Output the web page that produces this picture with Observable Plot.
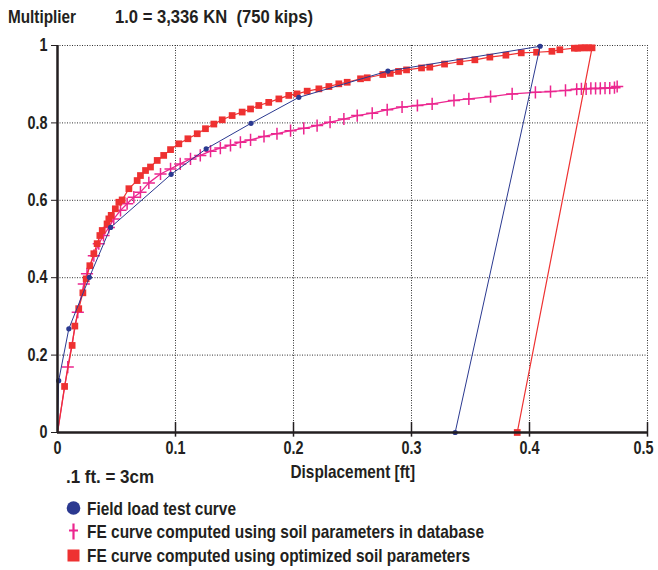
<!DOCTYPE html>
<html><head><meta charset="utf-8">
<script src="https://cdn.jsdelivr.net/npm/d3@7"></script>
<script src="https://cdn.jsdelivr.net/npm/@observablehq/plot@0.6"></script>
<style>
body{margin:0;background:#fff;}
#wrap{position:relative;width:658px;height:570px;}
#over{position:absolute;left:0;top:0;pointer-events:none;}
#over text{font-family:"Liberation Sans",Arial,sans-serif;font-weight:bold;fill:#231f20;white-space:pre;}
</style></head><body><div id="wrap"></div>
<script>
const FONT = '"Liberation Sans",Arial,sans-serif';
const blueColor = "#2b3990";
const pinkColor = "#ec268f";
const redColor = "#ee3131";

const xTicks = [0, 0.1, 0.2, 0.3, 0.4, 0.5];
const yTicks = [0, 0.2, 0.4, 0.6, 0.8, 1];

const fieldTest = [[0,0],[0.001,0.134],[0.0096,0.268],[0.027,0.401],[0.045,0.53],[0.0963,0.667],[0.126,0.733],[0.164,0.799],[0.2045,0.866],[0.280,0.934],[0.409,0.998],[0.337,0]];

const feDatabase = [[0,0],[0.0087,0.169],[0.0172,0.311],[0.0223,0.384],[0.025,0.41],[0.0308,0.457],[0.035,0.488],[0.039,0.509],[0.0435,0.53],[0.0477,0.552],[0.0534,0.574],[0.059,0.591],[0.0647,0.608],[0.0703,0.621],[0.0774,0.645],[0.0873,0.668],[0.0958,0.681],[0.104,0.694],[0.1127,0.707],[0.121,0.716],[0.1297,0.727],[0.138,0.735],[0.1466,0.742],[0.155,0.75],[0.1636,0.756],[0.175,0.765],[0.186,0.772],[0.1975,0.780],[0.2087,0.786],[0.22,0.793],[0.231,0.802],[0.2427,0.81],[0.254,0.819],[0.2667,0.825],[0.2794,0.834],[0.292,0.841],[0.305,0.845],[0.3175,0.849],[0.336,0.858],[0.3486,0.862],[0.367,0.868],[0.3853,0.875],[0.405,0.879],[0.4178,0.881],[0.4305,0.884],[0.440,0.887],[0.444,0.888],[0.448,0.888],[0.452,0.889],[0.456,0.889],[0.460,0.889],[0.464,0.89],[0.468,0.89],[0.472,0.891],[0.4743,0.894]];

const feOptimized = [[0,0],[0.006,0.119],[0.0124,0.225],[0.0147,0.275],[0.018,0.32],[0.0215,0.361],[0.0243,0.397],[0.0274,0.431],[0.0308,0.462],[0.0336,0.488],[0.0359,0.509],[0.0379,0.522],[0.042,0.539],[0.0435,0.552],[0.0455,0.561],[0.049,0.578],[0.052,0.595],[0.0548,0.601],[0.0605,0.63],[0.0675,0.651],[0.0703,0.664],[0.0746,0.677],[0.0788,0.686],[0.0845,0.703],[0.090,0.716],[0.0958,0.731],[0.1028,0.746],[0.1105,0.759],[0.1184,0.772],[0.1254,0.785],[0.1325,0.797],[0.1396,0.808],[0.148,0.819],[0.1565,0.828],[0.1636,0.836],[0.1706,0.845],[0.179,0.853],[0.1876,0.862],[0.196,0.871],[0.203,0.875],[0.2116,0.882],[0.2215,0.888],[0.23,0.894],[0.2384,0.901],[0.2455,0.905],[0.2568,0.914],[0.2625,0.9166],[0.2757,0.925],[0.282,0.928],[0.289,0.933],[0.2958,0.937],[0.3085,0.942],[0.3155,0.944],[0.328,0.952],[0.341,0.958],[0.3537,0.963],[0.3664,0.970],[0.380,0.975],[0.393,0.981],[0.406,0.9826],[0.419,0.985],[0.4257,0.989],[0.438,0.993],[0.441,0.993],[0.444,0.994],[0.447,0.994],[0.450,0.994],[0.453,0.994],[0.3896,0]];

const titleLeft = "Multiplier";
const titleRight = "1.0 = 3,336 KN  (750 kips)";
const xLabel = "Displacement [ft]";
const scaleNote = ".1 ft. = 3cm";
const legendLabels = ["Field load test curve", "FE curve computed using soil parameters in database", "FE curve computed using optimized soil parameters"];

const notOrigin = d => !(d[0] === 0 && d[1] === 0);

const chart = Plot.plot({
  width: 658, height: 570,
  marginLeft: 57, marginRight: 11, marginTop: 45, marginBottom: 138,
  x: {domain: [0, 0.5]},
  y: {domain: [0, 1]},
  style: {fontFamily: FONT, fontSize: "18px", fontWeight: "bold", color: "#231f20", background: "#fff", overflow: "visible"},
  marks: [
    Plot.ruleX(xTicks.filter(d => d > 0), {stroke: "#333", strokeWidth: 1, strokeDasharray: "1,1.5"}),
    Plot.ruleY(yTicks.filter(d => d > 0), {stroke: "#333", strokeWidth: 1, strokeDasharray: "1,1.5"}),
    Plot.line(feDatabase, {x: d => d[0], y: d => d[1], stroke: pinkColor, strokeWidth: 1.3}),
    Plot.dot(feDatabase.filter(notOrigin), {x: d => d[0], y: d => d[1], symbol: "plus", r: 4, stroke: pinkColor, strokeWidth: 1.5}),
    Plot.line(feOptimized, {x: d => d[0], y: d => d[1], stroke: redColor, strokeWidth: 1.2}),
    Plot.dot(feOptimized.filter(notOrigin), {x: d => d[0], y: d => d[1], symbol: "square", r: 3.8, fill: redColor}),
    Plot.line(fieldTest, {x: d => d[0], y: d => d[1], stroke: blueColor, strokeWidth: 1}),
    Plot.dot(fieldTest.filter(notOrigin), {x: d => d[0], y: d => d[1], r: 2.6, fill: blueColor}),
    Plot.ruleX(xTicks.filter(d => d > 0), {y1: -0.012, y2: 0.026, stroke: "#231f20", strokeWidth: 1.5}),
    Plot.axisX({ticks: xTicks, tickSize: 0, tickPadding: 9, label: null, fontSize: 18, tickFormat: d => String(d)}),
    Plot.axisY({ticks: yTicks, tickSize: 6, tickPadding: 4, label: null, fontSize: 18, stroke: "#231f20", tickFormat: d => String(d)}),
    Plot.ruleY([0], {stroke: "#231f20", strokeWidth: 2.5}),
    Plot.ruleX([0], {stroke: "#231f20", strokeWidth: 2.5})
  ]
});
const wrap = document.getElementById("wrap");
wrap.appendChild(chart);

// condense tick labels horizontally (reference uses a condensed face)
d3.select(chart).selectAll("g[aria-label$='tick label'] text").each(function() {
  const w = this.getComputedTextLength();
  this.setAttribute("textLength", w * 0.8);
  this.setAttribute("lengthAdjust", "spacingAndGlyphs");
});
// keep the last x tick label inside the picture
const xl = d3.select(chart).selectAll("g[aria-label='x-axis tick label'] text").nodes();
if (xl.length) xl[xl.length - 1].setAttribute("dx", -4);

const ns = "http://www.w3.org/2000/svg";
const over = document.createElementNS(ns, "svg");
over.setAttribute("id", "over");
over.setAttribute("width", 658);
over.setAttribute("height", 570);
function addText(str, x, y, size, width, anchor) {
  const t = document.createElementNS(ns, "text");
  t.setAttribute("x", x); t.setAttribute("y", y);
  t.setAttribute("font-size", size);
  t.setAttribute("textLength", width);
  t.setAttribute("lengthAdjust", "spacingAndGlyphs");
  if (anchor) t.setAttribute("text-anchor", anchor);
  t.textContent = str;
  over.appendChild(t);
}
addText(titleLeft, 8, 23, 19, 68);
addText(titleRight, 115, 23, 19, 198);
addText(xLabel, 290.5, 478, 18.5, 124.5);
addText(scaleNote, 66, 483, 19, 88);
const legendY = [508, 531.5, 555.5];
const legendW = [149, 397, 383];
legendLabels.forEach((s, i) => addText(s, 87, legendY[i] + 6.5, 19, legendW[i]));
// legend symbols
const c = document.createElementNS(ns, "circle");
c.setAttribute("cx", 73.5); c.setAttribute("cy", legendY[0]); c.setAttribute("r", 6.8); c.setAttribute("fill", blueColor);
over.appendChild(c);
const p = document.createElementNS(ns, "path");
p.setAttribute("d", `M73.5,${legendY[1]-8}V${legendY[1]+8}M69,${legendY[1]-1}H78`);
p.setAttribute("stroke", pinkColor); p.setAttribute("stroke-width", 2.2); p.setAttribute("fill", "none");
over.appendChild(p);
const r = document.createElementNS(ns, "rect");
r.setAttribute("x", 67.5); r.setAttribute("y", legendY[2]-6); r.setAttribute("width", 12); r.setAttribute("height", 12); r.setAttribute("fill", redColor);
over.appendChild(r);
wrap.appendChild(over);
</script>
</body></html>
